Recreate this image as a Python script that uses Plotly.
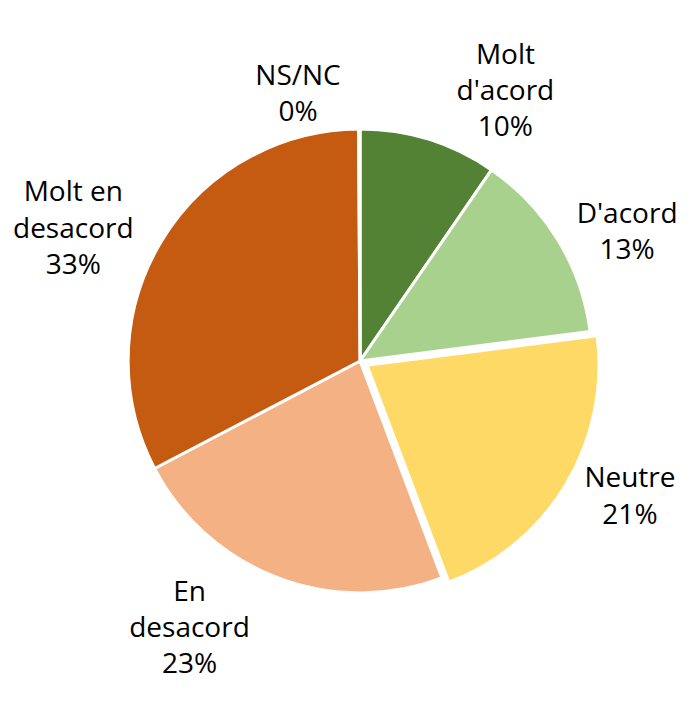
import plotly.graph_objects as go

# Categories and shares
labels = ["Molt<br>d'acord", "D'acord", "Neutre", "En<br>desacord", "Molt en<br>desacord", "NS/NC"]
values = [9.6, 13.4, 21.3, 23.1, 32.6, 0.1]
colors = ["#548235", "#A9D18E", "#FFD966", "#F4B183", "#C55A11", "#7F7F7F"]
pulls = [0, 0, 0.035, 0, 0, 0]

fig = go.Figure(go.Pie(
    labels=labels,
    values=values,
    sort=False,
    direction="clockwise",
    rotation=0,
    pull=pulls,
    marker=dict(colors=colors, line=dict(color="white", width=3)),
    texttemplate="%{label}<br>%{percent:.0%}",
    textposition="outside",
    textfont=dict(family="Open Sans", size=28, color="black"),
    hoverinfo="label+percent",
    domain=dict(x=[0.162, 0.857], y=[0.16, 0.84]),
    automargin=False,
))

fig.update_layout(
    width=691, height=706,
    margin=dict(l=0, r=0, t=0, b=0),
    showlegend=False,
    paper_bgcolor="white",
    font=dict(family="Open Sans"),
)

fig.write_html("out.html")
